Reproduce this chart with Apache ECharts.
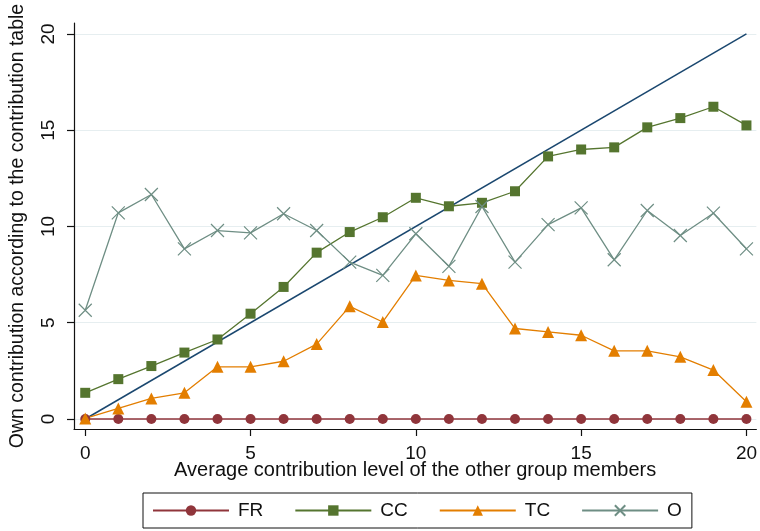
<!DOCTYPE html>
<html>
<head>
<meta charset="utf-8">
<script src="https://cdn.jsdelivr.net/npm/echarts@6/dist/echarts.min.js"></script>
<style>
  html, body { margin: 0; padding: 0; background: #fff; }
  #chart { width: 760px; height: 531px; }
</style>
</head>
<body>
<div id="chart"></div>
<script>
// Average contribution of the other group members (x) and own contribution by type
const levels = [0, 1, 2, 3, 4, 5, 6, 7, 8, 9, 10, 11, 12, 13, 14, 15, 16, 17, 18, 19, 20];
const frValues = [0, 0, 0, 0, 0, 0, 0, 0, 0, 0, 0, 0, 0, 0, 0, 0, 0, 0, 0, 0, 0];
const ccValues = [1.36, 2.07, 2.75, 3.45, 4.13, 5.47, 6.86, 8.64, 9.71, 10.48, 11.49, 11.05, 11.23, 11.83, 13.64, 14.0, 14.11, 15.15, 15.63, 16.22, 15.25];
const tcValues = [0.03, 0.55, 1.07, 1.36, 2.71, 2.71, 3.0, 3.89, 5.85, 5.04, 7.46, 7.2, 7.03, 4.7, 4.52, 4.35, 3.54, 3.54, 3.23, 2.54, 0.9];
const oValues = [5.65, 10.71, 11.66, 8.84, 9.79, 9.67, 10.66, 9.79, 8.15, 7.46, 9.62, 7.93, 11.04, 8.15, 10.1, 10.97, 8.27, 10.83, 9.53, 10.69, 8.84];
const diagonal = [0, 20];
const tickValues = [0, 5, 10, 15, 20];
const typeNames = ['FR', 'CC', 'TC', 'O'];

const font = "'Liberation Sans', Arial, sans-serif";
const pairs = (ys) => levels.map((x, i) => [x, ys[i]]);

const colors = {
  FR: '#90353b',
  CC: '#55752f',
  TC: '#e37e00',
  O: '#6e8e84',
  diag: '#1a476f'
};

const lineSeries = (name, ys, symbol, size, extraItem) => ({
  name,
  type: 'line',
  data: pairs(ys),
  symbol,
  symbolSize: size,
  showSymbol: true,
  lineStyle: { color: colors[name], width: 1.3 },
  itemStyle: Object.assign({ color: colors[name] }, extraItem || {}),
  emphasis: { disabled: true },
  animation: false
});

const chart = echarts.init(document.getElementById('chart'), null, { renderer: 'canvas' });

chart.setOption({
  backgroundColor: '#ffffff',
  animation: false,
  textStyle: { fontFamily: font },
  grid: { left: 73, top: 23, width: 687, height: 406, containLabel: false },
  xAxis: {
    type: 'value',
    min: -0.34,
    max: 20.3,
    name: 'Average contribution level of the other group members',
    nameLocation: 'middle',
    nameGap: 31,
    nameMoveOverlap: false,
    nameTextStyle: { fontFamily: font, fontSize: 20, color: '#111' },
    axisLine: { show: true, onZero: false, lineStyle: { color: '#111', width: 1.2 } },
    axisTick: { show: true, length: 7, customValues: tickValues, lineStyle: { color: '#111', width: 1.2 } },
    axisLabel: { customValues: tickValues, margin: 15, fontFamily: font, fontSize: 19, color: '#111' },
    splitLine: { show: false }
  },
  yAxis: {
    type: 'value',
    min: -0.52,
    max: 20.57,
    name: 'Own contribution according to the contribution table',
    nameLocation: 'middle',
    nameGap: 46,
    nameMoveOverlap: false,
    nameTextStyle: { fontFamily: font, fontSize: 19.5, color: '#111' },
    axisLine: { show: true, onZero: false, lineStyle: { color: '#111', width: 1.2 } },
    axisTick: { show: true, length: 7, customValues: tickValues, lineStyle: { color: '#111', width: 1.2 } },
    axisLabel: { customValues: tickValues, rotate: 90, margin: 16, fontFamily: font, fontSize: 19, color: '#111' },
    splitLine: { show: true, lineStyle: { color: '#e6eef0', width: 1.2 } }
  },
  legend: {
    data: typeNames,
    left: 143,
    top: 493,
    orient: 'horizontal',
    itemWidth: 76,
    itemHeight: 13,
    itemGap: 31,
    padding: [7, 10, 7, 9],
    borderColor: '#111',
    borderWidth: 1,
    selectedMode: false,
    textStyle: { fontFamily: font, fontSize: 19, color: '#111', padding: [0, 0, 0, 4], lineHeight: 21 }
  },
  series: [
    {
      name: 'diagonal',
      type: 'line',
      data: [[diagonal[0], diagonal[0]], [diagonal[1], diagonal[1]]],
      symbol: 'none',
      lineStyle: { color: colors.diag, width: 1.5 },
      emphasis: { disabled: true },
      animation: false,
      z: 1
    },
    lineSeries('FR', frValues, 'circle', 10),
    lineSeries('CC', ccValues, 'rect', 10),
    lineSeries('TC', tcValues, 'triangle', 12),
    lineSeries('O', oValues, 'path://M0,0L10,10M10,0L0,10', 13, { borderColor: colors.O, borderWidth: 1.2 })
  ]
});
</script>
</body>
</html>
